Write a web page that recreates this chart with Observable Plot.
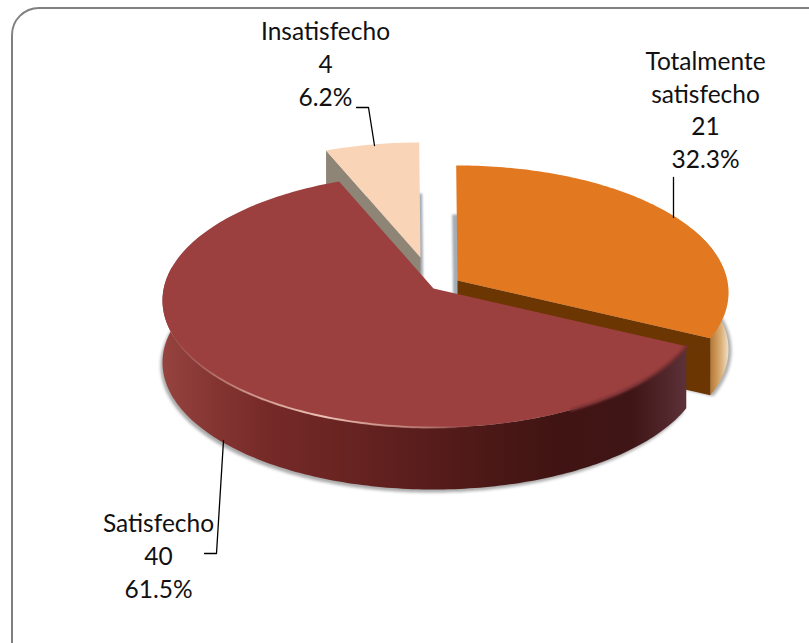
<!DOCTYPE html>
<html><head><meta charset="utf-8">
<style>html,body{margin:0;padding:0;background:#fff}svg{display:block}</style>
<script src="https://cdn.jsdelivr.net/npm/d3@7"></script>
<script src="https://cdn.jsdelivr.net/npm/@observablehq/plot@0.6"></script>
</head><body><script>
// Data
const categories = ["Satisfecho", "Insatisfecho", "Totalmente satisfecho"];
const labelLines = ["Satisfecho", "Insatisfecho", "Totalmente\nsatisfecho"];
const values = [40, 4, 21];
const percents = ["61.5%", "6.2%", "32.3%"];
const topColors = ["#9b403f", "#f9d4b6", "#e2781f"];

// Layout of the tilted disc
const W = 809, H = 643;
const cx = 433, cy = 300, rx = 271, ry = 127, e = -12 / 127, startDeg = 26;
const explode = [[0, 0], [-13, -31], [24, -8]];
const depth = [62, 60, 57];
const labelPos = [[158, 554], [325, 62], [705, 108]];

const total = d3.sum(values);
let acc = startDeg;
const slices = values.map((v, i) => {
  const a0 = acc; acc += v / total * 360;
  return {name: categories[i], a0, a1: acc, off: explode[i], d: depth[i]};
});
const rim = (deg, s, dz = 0) => {
  const p = deg * Math.PI / 180, c = Math.cos(p), n = Math.sin(p);
  const t = -e * n + Math.sqrt(1 - e * e * c * c);
  return {x: cx + rx * t * c + s.off[0], y: cy + ry * (e + t * n) + s.off[1] + dz, name: s.name};
};
const apex = (s, dz = 0) => ({x: cx + s.off[0], y: cy + ry * e + s.off[1] + dz, name: s.name});
const arc = (s, a, b, dz = 0) => {
  const n = Math.max(2, Math.ceil(Math.abs(b - a)));
  return d3.range(n + 1).map(i => rim(a + (b - a) * i / n, s, dz));
};
const [red, peach, orange] = slices;
const topPoly = s => [apex(s), ...arc(s, s.a0, s.a1)];
const wallPoly = (s, a, b) => [...arc(s, a, b), ...arc(s, b, a, s.d)];
const facePoly = (s, deg) => [apex(s), rim(deg, s), rim(deg, s, s.d), apex(s, s.d)];
const shift = (pts, dx, dy) => pts.map(p => ({...p, x: p.x + dx, y: p.y + dy}));
const shadowPoly = (s, dz) => [apex(s, dz), ...arc(s, s.a0, s.a1, dz)];

const poly = (pts, o) => Plot.line(pts, {x: "x", y: "y", curve: "linear-closed", ...o});
const gradient = (id, x1, x2, stops) =>
  `<linearGradient id="${id}" gradientUnits="userSpaceOnUse" x1="${x1}" x2="${x2}" y1="0" y2="0">` +
  stops.map(([o, c, a]) => `<stop offset="${o}" stop-color="${c}" stop-opacity="${a ?? 1}"/>`).join("") +
  `</linearGradient>`;
const defs = () => {
  const g = document.createElementNS("http://www.w3.org/2000/svg", "g");
  g.innerHTML = "<defs>" +
    gradient("redWall", 162, 684, [[0, "#96433f"], [.1, "#843532"], [.2, "#762a28"], [.34, "#692422"], [.52, "#561c1b"], [.76, "#3f1412"], [.9, "#401516"], [1, "#5b3037"]]) +
    gradient("orangeWall", 709, 727, [[0, "#b5742c"], [.6, "#d8ab72"], [1, "#eed9bb"]]) +
    gradient("lip", 175, 470, [[0, "#e9b9ad", 0], [.25, "#f0c4b8", .6], [.5, "#f2c9bd", .95], [.85, "#d79a90", .55], [1, "#c98a80", 0]]) +
    "</defs>";
  return g;
};

const leaders = [
  {k: 0, pts: [[204, 553], [216, 553], [223, 440]]},
  {k: 1, pts: [[356, 107], [368, 107], [374, 145]]},
  {k: 2, pts: [[673, 177], [673, 217]]}
].flatMap(l => l.pts.map(([x, y]) => ({x, y, k: l.k})));

const labels = values.map((v, i) => ({
  text: `${labelLines[i]}\n${v}\n${percents[i]}`, x: labelPos[i][0], y: labelPos[i][1]
}));

const blur = {imageFilter: "blur(1.5px)"};
const chart = Plot.plot({
  width: W, height: H, margin: 0,
  style: {background: "#fff"},
  x: {domain: [0, W], range: [0, W], axis: null},
  y: {domain: [0, H], range: [0, H], axis: null},
  color: {domain: categories, range: topColors},
  marks: [
    defs,
    Plot.rect([{}], {x1: () => 12, x2: () => 900, y1: () => 8, y2: () => 760, rx: 27, ry: 27, fill: "#fff", stroke: "#808080", strokeWidth: 2}),
    // soft shadows
    poly(shift(shadowPoly(red, red.d), -2, 3), {fill: "#8d8d8d", fillOpacity: .75, ...blur}),
    poly(shift(shadowPoly(orange, orange.d), 3, 1), {fill: "#8d8d8d", fillOpacity: .7, ...blur}),
    poly(shift(shadowPoly(orange, 49), -4, 0), {fill: "#9aa3ad", fillOpacity: .9, imageFilter: "blur(1px)"}),
    poly(shift(shadowPoly(peach, 51), 3, 0), {fill: "#9aa3ad", fillOpacity: .9, imageFilter: "blur(1px)"}),
    // insatisfecho
    poly(facePoly(peach, peach.a0), {fill: "#8e8577"}),
    poly(topPoly(peach), {fill: () => peach.name}),
    // totalmente satisfecho
    poly(wallPoly(orange, 335, orange.a1), {fill: "url(#orangeWall)"}),
    poly(facePoly(orange, orange.a1), {fill: "#6c3602"}),
    poly(topPoly(orange), {fill: () => orange.name}),
    // satisfecho
    poly(wallPoly(red, red.a0, 190), {fill: "url(#redWall)"}),
    poly(topPoly(red), {fill: () => red.name}),
    Plot.line(arc(red, red.a0, 62), {x: "x", y: "y", stroke: "#7a3033", strokeWidth: 3, imageFilter: "blur(1.2px)"}),
    Plot.line(arc(red, 60, 170), {x: "x", y: "y", stroke: "url(#lip)", strokeWidth: 2, imageFilter: "blur(0.5px)"}),
    // leader lines
    Plot.line(leaders, {x: "x", y: "y", z: "k", stroke: "#000", strokeWidth: 1.3}),
    // labels
    Plot.text(labels, {x: "x", y: "y", text: "text", fontFamily: "Lato", fontSize: 24.5, lineHeight: 1.33, fill: "#111", textAnchor: "middle"})
  ]
});
document.body.appendChild(chart);
</script></body></html>
